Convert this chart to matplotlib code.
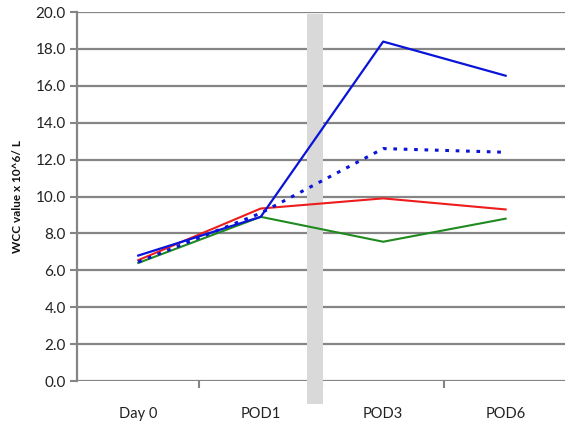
import matplotlib
matplotlib.use("Agg")
import matplotlib.pyplot as plt

# Dados
days = ["Day 0", "POD1", "POD3", "POD6"]
blue_solid = [6.8, 8.9, 18.4, 16.55]
blue_dotted = [6.45, 9.1, 12.6, 12.4]
red_vals = [6.55, 9.35, 9.9, 9.3]
green_vals = [6.4, 8.9, 7.55, 8.8]
y_ticks = [0, 2, 4, 6, 8, 10, 12, 14, 16, 18, 20]

plt.rcParams['font.family'] = ['Lato', 'DejaVu Sans']

fig = plt.figure(figsize=(5.65, 4.28), dpi=100)
ax = fig.add_axes([0.1363, 0.1098, 0.867, 0.862])

x = list(range(len(days)))
ax.set_xlim(-0.5, len(days) - 0.5)
ax.set_ylim(0, 20)

# grade horizontal
for t in y_ticks:
    ax.axhline(t, color='#858585', lw=1.6, zorder=1)

# faixa cinza
ax.axvspan(1.378, 1.51, ymin=-0.062, ymax=0.995, color='#d9d9d9', zorder=2, clip_on=False, lw=0)

ax.plot(x, green_vals, color='#1f8a1f', lw=1.5, zorder=3)
ax.plot(x, red_vals, color='#ee1c1c', lw=1.5, zorder=4)
ax.plot(x, blue_dotted, color='#0a14d8', lw=2.2, ls=(0, (1.2, 2.2)), zorder=5,
        dash_capstyle='butt')
ax.plot(x, blue_solid, color='#0a14d8', lw=1.6, zorder=6)

ax.set_yticks(y_ticks)
ax.set_yticklabels([f'{t:.1f}' for t in y_ticks], fontsize=11, color='#222222')
ax.set_xticks(x)
ax.set_xticklabels(days, fontsize=10.5, color='#222222')
ax.set_xticks([0.5, 1.5, 2.5], minor=True)
ax.tick_params(axis='x', which='major', length=0, pad=19)
ax.tick_params(axis='x', which='minor', length=5, width=1.5, color='#858585')
ax.tick_params(axis='y', length=5, width=1.5, color='#858585', pad=3)

for s in ['top', 'right', 'bottom']:
    ax.spines[s].set_visible(False)
ax.spines['left'].set_color('#858585')
ax.spines['left'].set_linewidth(1.6)

ax.set_ylabel('WCC value x 10^6/ L', fontsize=8.5, fontweight='bold', labelpad=9, color='#111111')

fig.savefig('out.png', dpi=100)
